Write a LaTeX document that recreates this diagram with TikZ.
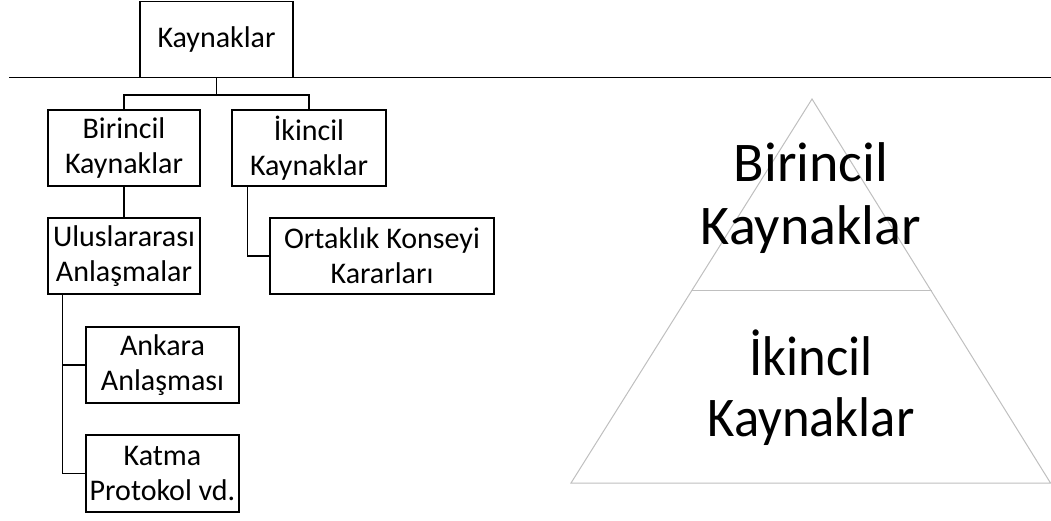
\documentclass[tikz,border=0pt]{standalone}
\usepackage{fontspec}
\setmainfont{Carlito}
\newfontfamily\lightfont[FakeStretch=0.94]{Carlito}
\definecolor{pyrgray}{HTML}{BFBFBF}
\tikzset{
  box/.style={draw=black, line width=1.3pt, rectangle, inner sep=0pt, align=center,
    font=\fontsize{30}{35}\selectfont},
  conn/.style={draw=black, line width=1.3pt},
  pyr/.style={draw=pyrgray, line width=1pt},
  bigtext/.style={align=center, inner sep=0pt, font=\fontsize{56}{63}\selectfont},
  lighttext/.style={align=center, inner sep=0pt, font=\lightfont\fontsize{56}{61}\selectfont}
}
\begin{document}
\begin{tikzpicture}[x=1pt,y=-1pt]
\useasboundingbox (0,0) rectangle (1051,520);
% rule across
\coordinate (ruleL) at (9,77);
\coordinate (ruleR) at (1051,77);
\draw[line width=1pt] (ruleL) -- (ruleR);
% tree
\node[box, minimum width=153pt, minimum height=76pt] (K) at (216.5,39.5) {Kaynaklar};
\node[box, minimum width=152pt, minimum height=76pt] (B) at (124,148) {Birincil\\Kaynaklar};
\node[box, minimum width=154pt, minimum height=76pt] (I) at (309,148) {İkincil\\Kaynaklar};
\node[box, minimum width=152pt, minimum height=76pt] (U) at (124,256) {Uluslararası\\Anlaşmalar};
\node[box, minimum width=224pt, minimum height=76pt] (O) at (382,256) {Ortaklık Konseyi\\Kararları};
\node[box, minimum width=153pt, minimum height=76pt] (A) at (162.5,365) {Ankara\\Anlaşması};
\node[box, minimum width=153pt, minimum height=77pt] (Kt) at (162.5,473.5) {Katma\\Protokol vd.};
\coordinate (bus) at (216.5,95);
\draw[conn] (K.south) -- (bus);
\draw[conn] (B.north) |- (bus) -| (I.north);
\draw[conn] (B.south) -- (U.north);
\draw[conn] ([xshift=16pt]I.south west) |- (O.west);
\draw[conn] ([xshift=15pt]U.south west) |- (A.west);
\draw[conn] ([xshift=15pt]U.south west) |- (Kt.west);
% pyramid
\coordinate (apex) at (812,99);
\coordinate (dl) at (692,290);
\coordinate (dr) at (932,290);
\coordinate (bl) at (571,483);
\coordinate (br) at (1050.5,483);
\draw[pyr] (bl) -- (apex) -- (br) -- cycle;
\draw[pyr] (dl) -- (dr);
\node[bigtext] (PT) at (811,198) {Birincil\\Kaynaklar};
\node[lighttext] (PB) at (811,388) {İkincil\\Kaynaklar};
\end{tikzpicture}
\end{document}
